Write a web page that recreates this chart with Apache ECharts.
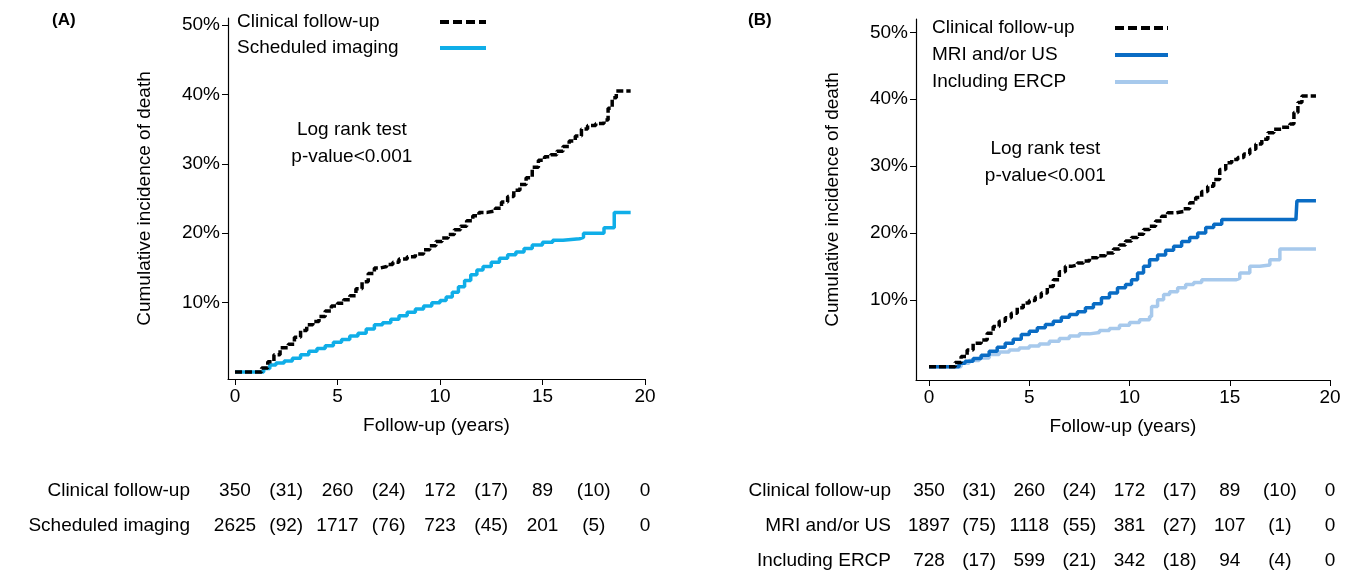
<!DOCTYPE html>
<html><head><meta charset="utf-8">
<script src="https://cdn.jsdelivr.net/npm/echarts@6/dist/echarts.min.js"></script>
<style>html,body{margin:0;background:#fff}#c{width:1348px;height:570px}</style>
</head><body><div id="c"></div>
<script>
// step curves [years, %]
var clinical = [[0,0],[1.1,0],[1.3,0.6],[1.6,1.5],[1.9,2.5],[2.2,3.5],[2.6,4],[2.9,5],[3.2,6],[3.5,6.8],[3.8,7.3],[4.1,8],[4.4,8.8],[4.7,9.5],[5,9.9],[5.3,10.4],[5.6,11],[5.9,12],[6.2,13],[6.5,14.2],[6.8,15],[7.1,15.2],[7.4,15.5],[7.7,15.8],[8,16.3],[8.4,16.6],[8.8,17],[9.2,17.6],[9.5,18.2],[9.8,18.8],[10.1,19.3],[10.4,19.8],[10.7,20.5],[11,21],[11.3,21.8],[11.6,22.5],[11.9,23],[12.3,23.2],[12.7,23.6],[13,24.5],[13.3,25.3],[13.6,26.2],[13.9,27],[14.2,28],[14.5,29.5],[14.8,30.5],[15.1,31],[15.4,31.3],[15.7,31.8],[16,32.5],[16.3,33.3],[16.6,34],[16.9,35],[17.2,35.5],[17.6,35.8],[18,36.3],[18.2,38],[18.4,39.5],[18.6,40.5],[19.3,40.5]];
var imaging = [[0,0],[1.2,0],[1.4,0.5],[1.7,1],[2,1.3],[2.4,1.6],[2.8,2],[3.2,2.5],[3.6,3],[4,3.4],[4.4,3.8],[4.8,4.3],[5.2,4.7],[5.6,5.2],[6,5.6],[6.4,6.2],[6.8,6.8],[7.2,7.1],[7.6,7.6],[8,8.1],[8.4,8.6],[8.8,9.1],[9.2,9.5],[9.6,10],[10,10.3],[10.3,10.8],[10.6,11.5],[10.9,12.3],[11.2,13.2],[11.5,14],[11.8,14.7],[12.1,15.2],[12.5,15.8],[12.9,16.4],[13.3,16.9],[13.7,17.3],[14.1,17.8],[14.5,18.3],[15,18.7],[15.5,19],[16,19.2],[16.8,19.4],[17,20],[17.8,20],[18,20.8],[18.5,23],[19.3,23]];
var mriUs = [[0,0],[1.2,0],[1.5,0.5],[1.8,0.8],[2.2,1.2],[2.6,1.7],[3,2.3],[3.4,2.9],[3.8,3.5],[4.2,4.1],[4.6,4.8],[5,5.3],[5.4,5.8],[5.8,6.3],[6.2,6.8],[6.6,7.4],[7,7.8],[7.4,8.2],[7.8,8.8],[8.2,9.4],[8.6,10.3],[9,11],[9.4,11.8],[9.8,12.3],[10.1,13],[10.4,14],[10.7,15],[11,16],[11.4,16.7],[11.8,17.4],[12.2,18],[12.6,18.7],[13,19.3],[13.4,20],[13.8,20.8],[14.2,21.3],[14.6,22],[18.3,22],[18.35,24.8],[19.3,24.8]];
var ercp = [[0,0],[1.2,0],[1.6,0.5],[2,0.9],[2.5,1.3],[3,1.8],[3.5,2.2],[4,2.5],[4.5,2.8],[5,3.1],[5.5,3.4],[6,3.8],[6.5,4.2],[7,4.6],[7.5,4.9],[8,5.1],[8.5,5.4],[9,5.7],[9.5,6.2],[10,6.6],[10.5,7],[11,7.5],[11.1,9],[11.4,10],[11.7,10.8],[12,11.2],[12.4,11.8],[12.8,12.3],[13.2,12.6],[13.6,13],[15.3,13.2],[15.5,14],[16,15],[16.5,15.2],[17,16],[17.5,17.6],[19.3,17.6]];
var yTicks = [10,20,30,40,50];
var riskCols = [0,2.5,5,7.5,10,12.5,15,17.5,20];
var riskA = [
  ['Clinical follow-up', ['350','(31)','260','(24)','172','(17)','89','(10)','0']],
  ['Scheduled imaging', ['2625','(92)','1717','(76)','723','(45)','201','(5)','0']]
];
var riskB = [
  ['Clinical follow-up', ['350','(31)','260','(24)','172','(17)','89','(10)','0']],
  ['MRI and/or US', ['1897','(75)','1118','(55)','381','(27)','107','(1)','0']],
  ['Including ERCP', ['728','(17)','599','(21)','342','(18)','94','(4)','0']]
];

var F = 'Liberation Sans, Arial, sans-serif';
var BLACK = '#000', CYAN = '#10aee8', DARK = '#0a6cc4', LIGHT = '#a7c9ec';
var chart = echarts.init(document.getElementById('c'));
function xAx(i, min) {
  return {gridIndex:i, type:'value', min:min, max:20,
    axisLine:{onZero:false,lineStyle:{color:'#000',width:1.2}},
    axisTick:{length:6,customValues:[0,5,10,15,20],lineStyle:{color:'#000'}},
    axisLabel:{color:'#000',fontSize:19,fontFamily:F,customValues:[0,5,10,15,20]},
    splitLine:{show:false},
    name:'Follow-up (years)', nameLocation:'middle', nameGap:37,
    nameTextStyle:{color:'#000',fontSize:19,fontFamily:F}};
}
function yAx(i, min, max) {
  return {gridIndex:i, type:'value', min:min, max:max,
    axisLine:{show:true,onZero:false,lineStyle:{color:'#000',width:1.2}},
    axisTick:{show:true,length:6,customValues:yTicks,lineStyle:{color:'#000'}},
    axisLabel:{color:'#000',fontSize:19,fontFamily:F,customValues:yTicks,formatter:'{value}%'},
    splitLine:{show:false},
    name:'Cumulative incidence of death', nameLocation:'middle', nameGap:74,
    nameTextStyle:{color:'#000',fontSize:19,fontFamily:F}};
}
function ser(data, i, color, dashed) {
  return {type:'line', step:'end', data:data, xAxisIndex:i, yAxisIndex:i,
    symbol:'none', animation:false,
    lineStyle:{color:color, width:3.5, type: dashed ? [7,3] : 'solid'}};
}
chart.setOption({
  animation:false,
  grid:[{left:228, right:703, top:18, bottom:191},{left:916, right:18, top:19, bottom:190}],
  xAxis:[xAx(0,-0.34), xAx(1,-0.65)],
  yAxis:[yAx(0,-1,51), yAx(1,-2,52)],
  series:[
    ser(imaging, 0, CYAN, false),
    ser(clinical, 0, BLACK, true),
    ser(ercp, 1, LIGHT, false),
    ser(mriUs, 1, DARK, false),
    ser(clinical, 1, BLACK, true)
  ]
});

var g = [
  {type:'text', left:52, top:12, style:{text:'(A)', font:'bold 17px '+F, fill:'#000'}},
  {type:'text', left:748, top:12, style:{text:'(B)', font:'bold 17px '+F, fill:'#000'}}
];
function legend(items, x, y0, lx0, lx1, dy) {
  items.forEach(function (it, k) {
    var y = y0 + k*dy;
    g.push({type:'text', x:x, y:y, style:{text:it[0], font:'19px '+F, fill:'#000', verticalAlign:'middle'}});
    g.push({type:'line', shape:{x1:lx0, y1:y, x2:lx1, y2:y},
      style:{stroke:it[1], lineWidth:4, lineDash: it[2] ? [9,4] : null}});
  });
}
legend([['Clinical follow-up',BLACK,true],['Scheduled imaging',CYAN,false]], 237, 22, 440, 486, 26);
legend([['Clinical follow-up',BLACK,true],['MRI and/or US',DARK,false],['Including ERCP',LIGHT,false]], 932, 28, 1115, 1168, 27);
var p = chart.convertToPixel({gridIndex:0}, [5.7, 33]);
g.push({type:'text', x:p[0], y:p[1], style:{text:'Log rank test\np-value<0.001', font:'19px '+F, fill:'#000', align:'center', verticalAlign:'middle', lineHeight:27}});
p = chart.convertToPixel({gridIndex:1}, [5.8, 30.5]);
g.push({type:'text', x:p[0], y:p[1], style:{text:'Log rank test\np-value<0.001', font:'19px '+F, fill:'#000', align:'center', verticalAlign:'middle', lineHeight:27}});
function table(rows, gi, labelRight, y0, dy) {
  rows.forEach(function (r, k) {
    var y = y0 + k*dy;
    g.push({type:'text', x:labelRight, y:y, style:{text:r[0], font:'19px '+F, fill:'#000', align:'right', verticalAlign:'middle'}});
    r[1].forEach(function (v, j) {
      var px = chart.convertToPixel({gridIndex:gi}, [riskCols[j], 0])[0];
      g.push({type:'text', x:px, y:y, style:{text:v, font:'19px '+F, fill:'#000', align:'center', verticalAlign:'middle'}});
    });
  });
}
table(riskA, 0, 190, 491, 35);
table(riskB, 1, 891, 491, 35);
chart.setOption({graphic:g});
</script></body></html>
